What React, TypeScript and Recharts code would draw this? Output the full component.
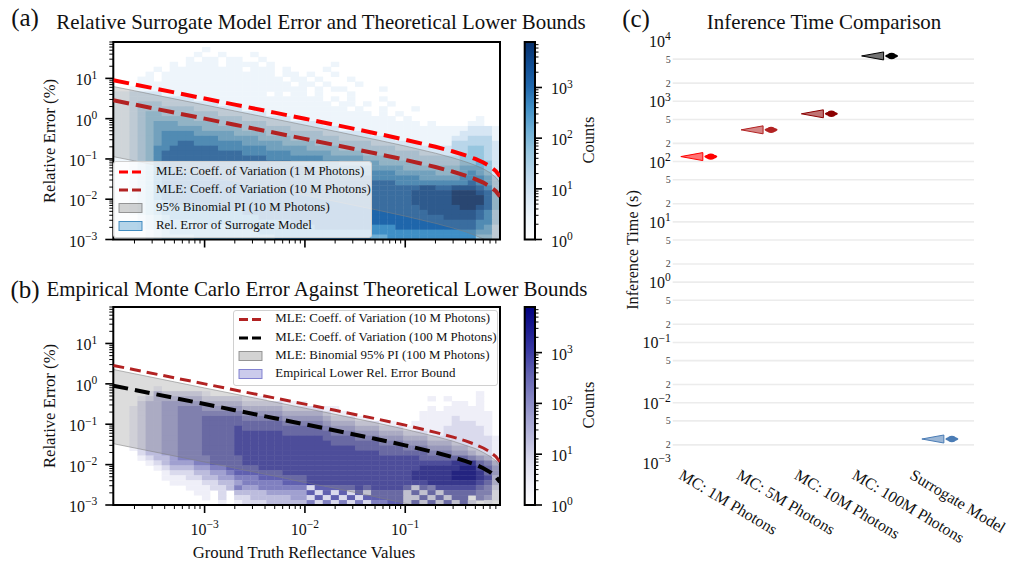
import React from "react";
import {
  ComposedChart, XAxis, YAxis, Scatter, Line, Area, ReferenceArea, Legend, CartesianGrid,
} from "recharts";

const FONT = "'Liberation Serif', 'Times New Roman', serif";
const W = 1011;
const H = 563;

// ---------- curves ----------
const reflectance = [1.23e-4, 2e-4, 5e-4, 1e-3, 2e-3, 5e-3, 1e-2, 2e-2, 5e-2, 0.1, 0.2, 0.3, 0.4, 0.5, 0.6, 0.7, 0.8, 0.88];
const cv1M = [9.02, 7.07, 4.47, 3.16, 2.23, 1.41, 0.995, 0.7, 0.436, 0.3, 0.2, 0.153, 0.122, 0.1, 0.0816, 0.0655, 0.05, 0.0369];
const cv10M = [2.85, 2.24, 1.41, 1.0, 0.705, 0.446, 0.315, 0.221, 0.138, 0.095, 0.063, 0.048, 0.0387, 0.0316, 0.0258, 0.0207, 0.0158, 0.0117];
const cv100M = [0.902, 0.707, 0.447, 0.316, 0.223, 0.141, 0.0995, 0.07, 0.0436, 0.03, 0.02, 0.0153, 0.0122, 0.01, 0.00816, 0.00655, 0.005, 0.00369];
const pi10MUpper = [6.27, 4.93, 3.1, 2.2, 1.55, 0.98, 0.69, 0.486, 0.304, 0.209, 0.139, 0.106, 0.085, 0.0695, 0.0568, 0.0455, 0.0348, 0.0257];
const pi10MLower = [0.114, 0.0896, 0.0564, 0.04, 0.0282, 0.0178, 0.0126, 0.00884, 0.00552, 0.0038, 0.00252, 0.00192, 0.00155, 0.00126, 0.00103, 0.00083, 0.00063, 0.00047];
const pi100MUpper = [2.27, 1.78, 1.12, 0.79, 0.56, 0.354, 0.25, 0.176, 0.11, 0.075, 0.05, 0.038, 0.03, 0.025, 0.02, 0.016, 0.0125, 0.0092];
const pi100MLower = [0.033, 0.0259, 0.0164, 0.0116, 0.0082, 0.0052, 0.0036, 0.0026, 0.0016, 0.0011, 0.00073, 0.00056, 0.00045, 0.00036, 0.0003, 0.00024, 0.00018, 0.00013];

// ---------- histogram levels (0 = empty, 9 = densest) ----------
const histSurrogate = [
  "00000000 00000000 00000000 00000000 00000000 00000000",
  "00000000 00010000 00000000 00000000 00000000 00000000",
  "00000000 00100100 01000000 00000000 00000000 00000000",
  "00000000 01011011 00100000 00000000 00000000 00000000",
  "00000001 01111011 11010000 00010000 00000000 00000000",
  "00000101 11111111 01110100 00100000 00000000 00000000",
  "00001011 11111111 11110110 10010000 00000000 00000000",
  "00011011 11111111 11111011 01000100 00000000 00000000",
  "00011111 11111111 11111101 10100010 00000000 00000000",
  "00111111 11111111 11111111 01011000 01000000 00000000",
  "11222211 11111111 11101011 01000100 00000000 00000000",
  "11222222 22111111 11111111 11010100 01000000 00000000",
  "11233322 22222111 11111111 11101101 00100000 00000000",
  "11233333 33222222 11111111 11111010 01000100 00000000",
  "11234433 33333222 22211111 11111111 01010000 00000000",
  "11234444 44333333 22222211 11111111 11101000 00000100",
  "11234555 44444333 33322222 22111111 11111101 00001100",
  "11234555 55544444 33333322 22221111 11111111 11112221",
  "11234566 66555554 44433333 33222222 11111111 11122221",
  "11234566 66666555 55444433 33332222 22211111 11223331",
  "11234566 77666666 55555444 43333333 22222211 11333332",
  "11234667 77777666 66655555 44443333 33322222 22334432",
  "11234677 77777777 66666655 55544443 33333322 22234432",
  "11234677 77777777 77766666 66555554 44433333 33344432",
  "11234677 77777777 77777766 66665555 54444433 33344542",
  "11234677 77777777 77777777 76666666 55554444 44455542",
  "11234677 77777777 77777777 77776666 66655555 44456542",
  "11234677 77777777 77777777 77777777 66666655 55566653",
  "11234677 77777777 77777777 77777777 77766666 66667653",
  "11234677 77777777 77777777 77777777 77777788 77888763",
  "11234677 77777777 77777777 77777777 77777888 88999874",
  "11234677 77777777 77777777 77777777 77777888 88999974",
  "11234567 77777777 77777777 77777777 77777888 88999974",
  "11234566 66667777 77777777 77777777 77777788 88899874",
  "11234566 66666666 77777777 77777777 77777778 88888763",
  "11123456 66666666 66777777 77777777 77777777 78888763",
  "11123455 55666666 66666677 77777777 77777777 77777663",
  "11123455 55555566 66666666 67777777 66677777 77777652",
  "11112345 55555555 55666666 66666666 66666666 66666552",
  "11112344 44555555 55556666 66666666 55666666 66666442",
];
const histMonteCarlo = [
  "", "", "", "", "", "", "", "", "", "", "", "", "", "", "", "",
  "00000100 00000000 00000000 00000000 00000000 00000000",
  "00001322 22210000 00000000 00000000 00000000 00000100",
  "00012333 33322222 11100000 00000000 00000001 01000100",
  "00023344 44433333 22222111 00000000 00000000 00110100",
  "00123344 55544444 33333222 22110000 00000001 01111100",
  "00123344 55555555 44444333 33211000 00000011 11111110",
  "00123344 55566666 55555444 44322211 00000011 11211110",
  "00123344 55566666 66666555 55433322 21100111 11222110",
  "00123344 55566667 66666666 66544433 32221111 12222210",
  "00123344 55566667 77777666 66655544 43332221 12222210",
  "00123344 55566667 77777777 77666655 54443332 22222221",
  "00123344 55566667 77777777 77766666 65554443 33222221",
  "00123344 55566667 77777777 77777766 66665554 44332221",
  "00023344 55566667 77777777 77777777 76666665 55443221",
  "00012334 55556666 77777777 77777777 77777766 66665431",
  "00001234 44556666 77777777 77777777 77777777 77888653",
  "00000123 33445566 66777777 77777777 77777788 88899764",
  "00000012 22334456 66666777 77777777 77777888 88999864",
  "00000011 12233445 55666666 77777777 77777888 88999873",
  "00000001 11122334 55555666 77777777 77777778 88888763",
  "00000000 01112235 44555555 26666676 77776265 77777652",
  "00000000 00110203 33344444 62626262 66662626 26666551",
  "00000000 00010202 23333344 26262626 66662262 62660541",
  "00000000 00000101 22233333 52525252 55662626 26262010",
];
const blueRamp = ["#ffffff", "#eef5fb", "#d6e6f4", "#b9d6ea", "#97c6df", "#6daed5", "#3f8fc6", "#1f66ab", "#0f4c92", "#08306b"];
const purpleRamp = ["#ffffff", "#efeff8", "#dadaed", "#bcbcdd", "#a0a0d0", "#8080c0", "#6060b0", "#3a3aa4", "#1c1c90", "#000080"];

// ---------- axis ticks ----------
const xTicks = [2e-4, 3e-4, 4e-4, 5e-4, 6e-4, 7e-4, 8e-4, 9e-4, 1e-3, 2e-3, 3e-3, 4e-3, 5e-3, 6e-3, 7e-3, 8e-3, 9e-3, 1e-2, 2e-2, 3e-2, 4e-2, 5e-2, 6e-2, 7e-2, 8e-2, 9e-2, 0.1, 0.2, 0.3, 0.4, 0.5, 0.6, 0.7, 0.8];
const yTicks = [1e-3, 2e-3, 3e-3, 4e-3, 5e-3, 6e-3, 7e-3, 8e-3, 9e-3, 1e-2, 2e-2, 3e-2, 4e-2, 5e-2, 6e-2, 7e-2, 8e-2, 9e-2, 0.1, 0.2, 0.3, 0.4, 0.5, 0.6, 0.7, 0.8, 0.9, 1, 2, 3, 4, 5, 6, 7, 8, 9, 10, 20, 30, 40, 50, 60, 70, 80];
const countTicks = [1, 2, 3, 4, 5, 6, 7, 8, 9, 10, 20, 30, 40, 50, 60, 70, 80, 90, 100, 200, 300, 400, 500, 600, 700, 800, 900, 1000, 2000, 3000, 4000, 5000, 6000, 7000];
const X_DOMAIN: [number, number] = [1.23e-4, 0.88];
const Y_DOMAIN: [number, number] = [1e-3, 80];
const COUNT_DOMAIN: [number, number] = [1, 7900];

// ---------- panel (c) ----------
const methods = ["MC: 1M Photons", "MC: 5M Photons", "MC: 10M Photons", "MC: 100M Photons", "Surrogate Model"];
const inferenceSeconds = [121, 336, 620, 5650, 0.0025];
const methodColors = ["#ff0000", "#b22222", "#8b0000", "#000000", "#4a7cb5"];
const timeTicks = [1e-3, 2e-3, 5e-3, 1e-2, 2e-2, 5e-2, 0.1, 0.2, 0.5, 1, 2, 5, 10, 20, 50, 100, 200, 500, 1000, 2000, 5000, 10000];
const timeGrid = [2e-3, 5e-3, 1e-2, 2e-2, 5e-2, 0.1, 0.2, 0.5, 1, 2, 5, 10, 20, 50, 100, 200, 500, 1000, 2000, 5000];

// ---------- legends ----------
const legendSurrogate = [
  { label: "MLE: Coeff. of Variation (1 M Photons)", kind: "dash", color: "#ff0000" },
  { label: "MLE: Coeff. of Variation (10 M Photons)", kind: "dash", color: "#b22222" },
  { label: "95% Binomial PI (10 M Photons)", kind: "patch", color: "#808080", edge: "#808080" },
  { label: "Rel. Error of Surrogate Model", kind: "patch", color: "#2f87c4", edge: "#1f77b4" },
];
const legendMonteCarlo = [
  { label: "MLE: Coeff. of Variation (10 M Photons)", kind: "dash", color: "#b22222" },
  { label: "MLE: Coeff. of Variation (100 M Photons)", kind: "dash", color: "#000000" },
  { label: "MLE: Binomial 95% PI (100 M Photons)", kind: "patch", color: "#808080", edge: "#808080" },
  { label: "Empirical Lower Rel. Error Bound", kind: "patch", color: "#6a6ac8", edge: "#6a6ac8" },
];

const curveTable = reflectance.map((x, i) => ({
  x,
  cv1: cv1M[i],
  cv10: cv10M[i],
  cv100: cv100M[i],
  band10: [pi10MLower[i], pi10MUpper[i]],
  band100: [pi100MLower[i], pi100MUpper[i]],
}));
const timeTable = methods.map((name, i) => ({ name, seconds: inferenceSeconds[i], color: methodColors[i] }));

function histCells(rows: string[]) {
  const lx0 = Math.log10(X_DOMAIN[0]);
  const lx1 = Math.log10(X_DOMAIN[1]);
  const ly0 = Math.log10(Y_DOMAIN[0]);
  const ly1 = Math.log10(Y_DOMAIN[1]);
  const out: { x: number; y: number; level: number }[] = [];
  rows.forEach((raw, r) => {
    const row = raw.replace(/ /g, "");
    for (let c = 0; c < row.length; c++) {
      const level = Number(row[c]);
      if (!level) continue;
      out.push({
        x: Math.pow(10, lx0 + ((c + 0.5) / 48) * (lx1 - lx0)),
        y: Math.pow(10, ly1 - ((r + 0.5) / 40) * (ly1 - ly0)),
        level,
      });
    }
  });
  return out;
}

const isDecade = (v: number) => Math.abs(Math.log10(v) - Math.round(Math.log10(v))) < 1e-6;
const expText = (v: number) => String(Math.round(Math.log10(v))).replace("-", "\u2212");

function Pow({ x, y, v, anchor, size }: any) {
  return (
    <text x={x} y={y} textAnchor={anchor} fontFamily={FONT} fontSize={size} fill="#111">
      <tspan>10</tspan>
      <tspan dy={-size * 0.42} fontSize={size * 0.72}>{expText(v)}</tspan>
    </text>
  );
}

const leftTick = (p: any) => {
  const v = p.payload.value;
  const major = isDecade(v);
  return (
    <g>
      <line x1={p.x - (major ? 8 : 4)} x2={p.x} y1={p.y} y2={p.y} stroke="#000" strokeWidth={major ? 1.6 : 1} />
      {major && <Pow x={p.x - 16} y={p.y + 7} v={v} anchor="end" size={16} />}
    </g>
  );
};
const rightTick = (p: any) => {
  const v = p.payload.value;
  const major = isDecade(v);
  return (
    <g>
      <line x1={p.x} x2={p.x + (major ? 7 : 3.5)} y1={p.y} y2={p.y} stroke="#000" strokeWidth={major ? 1.6 : 1} />
      {major && <Pow x={p.x + 16} y={p.y + 7} v={v} anchor="start" size={16} />}
    </g>
  );
};
const bottomTick = (labelled: boolean) => (p: any) => {
  const v = p.payload.value;
  const major = isDecade(v);
  return (
    <g>
      <line x1={p.x} x2={p.x} y1={p.y} y2={p.y + (major ? 8 : 4)} stroke="#000" strokeWidth={major ? 1.6 : 1} />
      {labelled && major && <Pow x={p.x} y={p.y + 30} v={v} anchor="middle" size={16} />}
    </g>
  );
};
const timeTick = (p: any) => {
  const v = p.payload.value;
  if (isDecade(v)) return <Pow x={p.x - 2} y={p.y + 6} v={v} anchor="end" size={16} />;
  return (
    <text x={p.x - 2} y={p.y + 3.5} textAnchor="end" fontFamily={FONT} fontSize={10} fill="#444">
      {String(v).replace(/^0\.0*/, "").replace(/0+$/, "")}
    </text>
  );
};
const methodTick = (p: any) => {
  const i = p.index ?? 0;
  const sx = p.x - 25 - i * 2.5;
  const sy = p.y + 15;
  return (
    <text x={sx} y={sy} textAnchor="start" fontFamily={FONT} fontSize={16} fill="#111" transform={`rotate(31 ${sx} ${sy})`}>
      {p.payload.value}
    </text>
  );
};

const cellShape = (ramp: string[], w: number, h: number) => (p: any) => (
  <rect x={p.cx - w / 2} y={p.cy - h / 2} width={w + 0.4} height={h + 0.4} fill={ramp[p.payload.level]} />
);

const violinShape = (p: any) => {
  const { cx, cy, payload } = p;
  const c = payload.color;
  return (
    <g>
      <path d={`M${cx - 22} ${cy} L${cx} ${cy - 4} L${cx} ${cy + 4} Z`} fill={c} fillOpacity={0.55} stroke={c} strokeWidth={1} />
      <ellipse cx={cx + 8} cy={cy} rx={6.5} ry={2.2} fill={c} />
      <ellipse cx={cx + 8} cy={cy} rx={4} ry={3.2} fill={c} />
    </g>
  );
};

function LegendBox({ items, box, textX, rowY, size }: any) {
  return (
    <div
      style={{
        position: "absolute", left: 0, top: 0, width: box.w, height: box.h, boxSizing: "border-box",
        background: "rgba(255,255,255,0.8)", border: "1px solid #d0d0d0", borderRadius: 3,
        fontFamily: FONT, fontSize: size, color: "#111", lineHeight: 1,
      }}
    >
      <svg width={box.w} height={box.h} style={{ position: "absolute", left: -1, top: -1 }}>
        {items.map((it: any, i: number) =>
          it.kind === "dash" ? (
            <line key={i} x1={6} x2={30} y1={rowY[i]} y2={rowY[i]} stroke={it.color} strokeWidth={3} strokeDasharray="9 4" />
          ) : (
            <rect key={i} x={6} y={rowY[i] - 4.5} width={23} height={9} fill={it.color} fillOpacity={0.35} stroke={it.edge} strokeOpacity={0.8} strokeWidth={1} />
          ),
        )}
      </svg>
      {items.map((it: any, i: number) => (
        <span key={i} style={{ position: "absolute", left: textX - 1, top: rowY[i] - size / 2 - 2, whiteSpace: "nowrap" }}>
          {it.label}
        </span>
      ))}
    </div>
  );
}

const layer: React.CSSProperties = { position: "absolute", left: 0, top: 0, width: W, height: H };

function ErrorPanel({ cells, ramp, top, bottom, band, lines, legend, labelled }: any) {
  const left = 113.3;
  const right = 500;
  const cw = (right - left) / 48;
  const ch = (bottom - top) / 40;
  return (
    <>
      <div style={layer}>
        <ComposedChart width={W} height={H} data={cells} margin={{ left, right: W - right, top, bottom: H - bottom }}>
          <XAxis dataKey="x" type="number" scale="log" domain={X_DOMAIN} allowDataOverflow hide />
          <YAxis type="number" scale="log" domain={Y_DOMAIN} allowDataOverflow hide />
          <Scatter data={cells} dataKey="y" isAnimationActive={false} shape={cellShape(ramp, cw, ch)} />
        </ComposedChart>
      </div>
      <div style={layer}>
        <ComposedChart
          width={W}
          height={H}
          data={curveTable}
          margin={{ left: left - 1, right: W - right, top, bottom: H - bottom - 1 }}
        >
          <XAxis dataKey="x" type="number" scale="log" domain={X_DOMAIN} allowDataOverflow ticks={xTicks} interval={0}
            tick={bottomTick(labelled)} tickLine={false} axisLine={false} height={1} tickSize={0} tickMargin={0} />
          <YAxis type="number" scale="log" domain={Y_DOMAIN} allowDataOverflow ticks={yTicks} interval={0}
            tick={leftTick} tickLine={false} axisLine={false} width={1} tickSize={0} tickMargin={0} />
          <Area dataKey={band} type="linear" fill="#808080" fillOpacity={0.28} stroke="#808080" strokeOpacity={0.55} strokeWidth={1} dot={false} activeDot={false} isAnimationActive={false} />
          {lines.map((l: any) => (
            <Line key={l.key} dataKey={l.key} type="linear" stroke={l.color} strokeWidth={l.width} strokeDasharray={l.dash} dot={false} activeDot={false} isAnimationActive={false} />
          ))}
          <ReferenceArea x1={X_DOMAIN[0]} x2={X_DOMAIN[1]} y1={Y_DOMAIN[0]} y2={Y_DOMAIN[1]} fill="none" stroke="#000" strokeWidth={2} ifOverflow="visible" />
          <Legend layout="horizontal" verticalAlign="middle" align="center"
            wrapperStyle={{ left: legend.x, top: legend.y, width: legend.box.w, height: legend.box.h, margin: 0, padding: 0 }}
            content={() => <LegendBox items={legend.items} box={legend.box} textX={legend.textX} rowY={legend.rowY} size={legend.size} />} />
        </ComposedChart>
      </div>
    </>
  );
}

function ColorBar({ id, ramp, top, bottom }: any) {
  const left = 524.7;
  const right = 535;
  return (
    <div style={layer}>
      <ComposedChart width={W} height={H} data={curveTable} margin={{ left, right: W - right - 1, top, bottom: H - bottom }}>
        <defs>
          <linearGradient id={id} x1="0" y1="1" x2="0" y2="0">
            {ramp.map((c: string, i: number) => (
              <stop key={i} offset={`${(i / (ramp.length - 1)) * 100}%`} stopColor={c} />
            ))}
          </linearGradient>
        </defs>
        <XAxis type="number" dataKey="x" domain={[0, 1]} hide allowDataOverflow />
        <YAxis type="number" scale="log" orientation="right" domain={COUNT_DOMAIN} allowDataOverflow ticks={countTicks} interval={0}
          tick={rightTick} tickLine={false} axisLine={false} width={1} tickSize={0} tickMargin={0} />
        <ReferenceArea x1={0} x2={1} y1={COUNT_DOMAIN[0]} y2={COUNT_DOMAIN[1]} fill={`url(#${id})`} fillOpacity={1} stroke="#000" strokeWidth={2} ifOverflow="visible" />
      </ComposedChart>
    </div>
  );
}

function TimePanel() {
  return (
    <div style={layer}>
      <ComposedChart width={W} height={H} data={timeTable} margin={{ left: 671.7, right: W - 974, top: 41, bottom: H - 463 - 1 }}>
        <CartesianGrid vertical={false} horizontalValues={timeGrid} stroke="#ececec" strokeWidth={1.6} />
        <XAxis dataKey="name" type="category" scale="band" interval={0} tick={methodTick} tickLine={false} axisLine={false} height={1} tickSize={0} tickMargin={0} />
        <YAxis type="number" scale="log" domain={[1e-3, 1e4]} allowDataOverflow ticks={timeTicks} interval={0}
          tick={timeTick} tickLine={false} axisLine={false} width={1} tickSize={0} tickMargin={0} />
        <Scatter dataKey="seconds" isAnimationActive={false} shape={violinShape} />
      </ComposedChart>
    </div>
  );
}

const T = ({ x, y, size, rotate, anchor = "middle", children }: any) => (
  <text x={x} y={y} fontFamily={FONT} fontSize={size} fill="#111" textAnchor={anchor}
    transform={rotate ? `rotate(${rotate} ${x} ${y})` : undefined}>{children}</text>
);

const surrogateCells = histCells(histSurrogate);
const monteCarloCells = histCells(histMonteCarlo);

export default function App() {
  return (
    <div style={{ position: "absolute", left: 0, top: 0, width: W, height: H, background: "#fff", overflow: "hidden" }}>
      <ErrorPanel cells={surrogateCells} ramp={blueRamp} top={42} bottom={239.5} band="band10" labelled={false}
        lines={[
          { key: "cv1", color: "#ff0000", width: 4, dash: "16 7" },
          { key: "cv10", color: "#b22222", width: 4, dash: "16 7" },
        ]}
        legend={{ x: 113, y: 161, box: { w: 259, h: 77 }, items: legendSurrogate, textX: 43, rowY: [11, 29, 47, 65], size: 12.9 }} />
      <ErrorPanel cells={monteCarloCells} ramp={purpleRamp} top={307} bottom={505} band="band100" labelled
        lines={[
          { key: "cv10", color: "#b22222", width: 3, dash: "11 6" },
          { key: "cv100", color: "#000000", width: 4, dash: "15 7" },
        ]}
        legend={{ x: 233.3, y: 310, box: { w: 264.5, h: 76 }, items: legendMonteCarlo, textX: 42, rowY: [9.5, 28, 46, 64], size: 12.9 }} />
      <ColorBar id="cbBlue" ramp={blueRamp} top={42} bottom={239.5} />
      <ColorBar id="cbPurple" ramp={purpleRamp} top={307} bottom={505} />
      <TimePanel />
      <svg width={W} height={H} style={{ position: "absolute", left: 0, top: 0, pointerEvents: "none" }}>
        <T x={25} y={26} size={25}>(a)</T>
        <T x={25} y={298} size={25}>(b)</T>
        <T x={636} y={27} size={25}>(c)</T>
        <T x={321} y={29} size={20.9}>Relative Surrogate Model Error and Theoretical Lower Bounds</T>
        <T x={317} y={296} size={20.9}>Empirical Monte Carlo Error Against Theoretical Lower Bounds</T>
        <T x={824} y={29} size={20.9}>Inference Time Comparison</T>
        <T x={55} y={141} size={16.7} rotate={-90}>Relative Error (%)</T>
        <T x={55} y={406} size={16.7} rotate={-90}>Relative Error (%)</T>
        <T x={594} y={140} size={16.5} rotate={-90}>Counts</T>
        <T x={594} y={405} size={16.5} rotate={-90}>Counts</T>
        <T x={638} y={250} size={16.2} rotate={-90}>Inference Time (s)</T>
        <T x={304} y={558} size={16.7}>Ground Truth Reflectance Values</T>
      </svg>
    </div>
  );
}
